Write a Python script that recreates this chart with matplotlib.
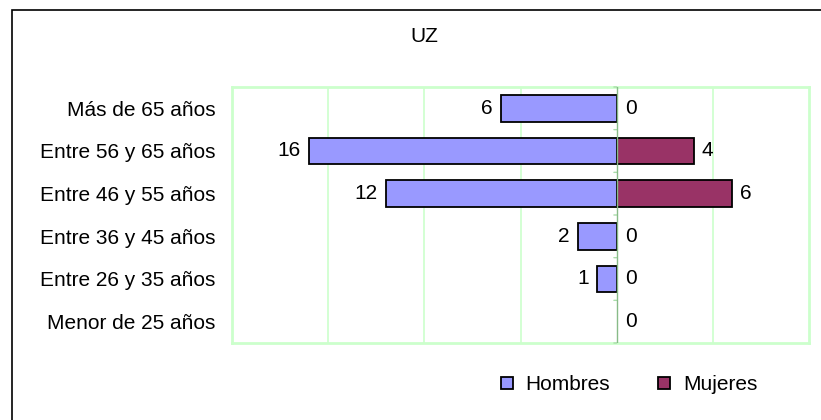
import numpy as np
import matplotlib.pyplot as plt
from matplotlib.lines import Line2D
from matplotlib.patches import Rectangle

plt.rcParams['font.family'] = ['Liberation Sans', 'DejaVu Sans']

# Datos
grupos = ['Más de 65 años', 'Entre 56 y 65 años', 'Entre 46 y 55 años',
          'Entre 36 y 45 años', 'Entre 26 y 35 años', 'Menor de 25 años']
hombres = [6, 16, 12, 2, 1, np.nan]
mujeres = [0, 4, 6, 0, 0, 0]
titulo = 'UZ'

col_h = '#9999FF'
col_m = '#993366'
verde = '#CCFFCC'
fs = 15

W, H = 821, 420
fig = plt.figure(figsize=(W / 100, H / 100), dpi=100)
fig.patch.set_facecolor('white')
ax = fig.add_axes([232 / W, 1 - 343 / H, (809 - 232) / W, (343 - 87) / H])

y = np.arange(len(grupos))
h = np.array(hombres, dtype=float)
m = np.array(mujeres, dtype=float)
h0 = np.nan_to_num(h)

ax.barh(y, -h0, height=0.63, color=col_h, edgecolor='black',
        linewidth=[1.3 if v > 0 else 0 for v in h0], zorder=3)
ax.barh(y, m, height=0.63, color=col_m, edgecolor='black',
        linewidth=[1.3 if v > 0 else 0 for v in m], zorder=3)

# etiquetas de valores
for yi, v in zip(y, h):
    if not np.isnan(v):
        ax.annotate(str(int(v)), xy=(-v, yi), xytext=(-6, 0), textcoords='offset points',
                    ha='right', va='center', fontsize=fs)
for yi, v in zip(y, m):
    ax.annotate(str(int(v)), xy=(v, yi), xytext=(6, 0), textcoords='offset points',
                ha='left', va='center', fontsize=fs)

ax.set_xlim(-20, 10)
ax.set_ylim(len(grupos) - 0.5, -0.5)
ax.set_xticks([-15, -10, -5, 5])
ax.xaxis.grid(True, color=verde, linewidth=1.2, zorder=0)
ax.tick_params(axis='x', length=0, labelbottom=False)
ax.set_yticks(y)
ax.set_yticklabels(grupos, fontsize=fs)
ax.tick_params(axis='y', length=0, pad=12)
for s in ax.spines.values():
    s.set_color(verde)
    s.set_linewidth(2)

# eje en cero con marcas entre categorias
ax.axvline(0, color='#88BB88', linewidth=1, zorder=4)
for b in np.arange(-0.5, len(grupos)):
    ax.annotate('', xy=(0, b), xytext=(-4, 0), textcoords='offset points',
                arrowprops=dict(arrowstyle='-', color='#AADDAA', lw=1))

fig.text(424 / W, 1 - 37 / H, titulo, ha='center', va='center', fontsize=fs)

handles = [Line2D([], [], marker='s', linestyle='none', markersize=8, markerfacecolor=col_h,
                  markeredgecolor='black', markeredgewidth=1.3),
           Line2D([], [], marker='s', linestyle='none', markersize=8, markerfacecolor=col_m,
                  markeredgecolor='black', markeredgewidth=1.3)]
fig.legend(handles, ['Hombres', 'Mujeres'], loc='center', bbox_to_anchor=(628 / W, 1 - 385 / H),
           ncol=2, frameon=False, fontsize=fs, handlelength=0.8, handletextpad=0.5,
           columnspacing=2.2, borderpad=0, borderaxespad=0)

# marco del grafico
fig.patches.append(Rectangle((12 / W, -0.1), 1.2, 1 - 10 / H + 0.1, transform=fig.transFigure,
                             fill=False, edgecolor='black', linewidth=1.2))

fig.savefig('out.png', dpi=100)
